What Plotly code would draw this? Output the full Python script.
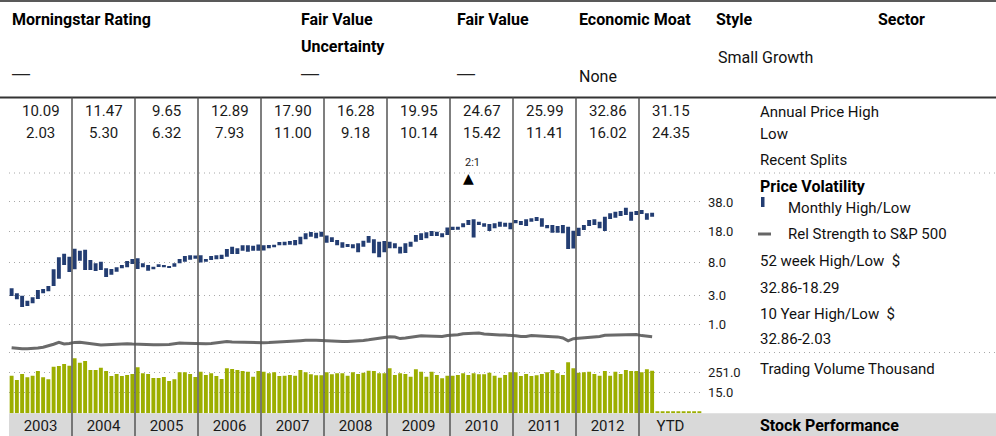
import math
import plotly.graph_objects as go

W, H = 996, 436

# ---------------- data ----------------
years = list(range(2003, 2014))
year_labels = ['2003', '2004', '2005', '2006', '2007', '2008', '2009', '2010', '2011', '2012', 'YTD']
annual_high = [10.09, 11.47, 9.65, 12.89, 17.90, 16.28, 19.95, 24.67, 25.99, 32.86, 31.15]
annual_low = [2.03, 5.30, 6.32, 7.93, 11.00, 9.18, 10.14, 15.42, 11.41, 16.02, 24.35]

monthly_high = [
    3.77, 3.23, 2.99, 2.53, 2.83, 3.58, 3.69, 4.05, 6.57, 9.15, 10.09, 9.30,
    11.47, 10.92, 11.21, 8.50, 7.77, 8.12, 6.76, 6.63, 6.95, 7.41, 8.27, 8.74,
    8.90, 7.77, 7.41, 7.07, 7.56, 7.41, 7.21, 7.77, 8.74, 9.47, 9.65, 9.60,
    9.65, 8.74, 9.47, 9.65, 9.81, 11.42, 12.14, 11.63, 12.59, 12.59, 12.46, 12.89,
    12.59, 12.69, 12.79, 13.73, 13.84, 14.09, 14.46, 15.76, 17.20, 17.79, 17.47, 17.90,
    16.28, 15.51, 14.46, 13.62, 13.03, 12.92, 13.27, 14.20, 16.04, 14.73, 13.84, 14.09,
    13.84, 13.27, 12.14, 13.27, 13.84, 16.46, 17.20, 17.65, 18.25, 17.93, 17.20, 19.95,
    20.40, 20.30, 22.21, 24.15, 24.67, 23.14, 22.21, 21.82, 22.21, 23.14, 22.55, 22.55,
    24.15, 23.55, 24.59, 25.22, 25.99, 25.22, 21.27, 21.27, 20.74, 21.27, 20.37, 18.39,
    19.86, 21.27, 24.15, 24.59, 23.14, 26.27, 28.62, 29.80, 30.32, 32.86, 29.80, 30.32,
    31.15, 28.62, 29.05,
]
monthly_low = [
    2.96, 2.65, 2.03, 2.10, 2.31, 2.68, 3.23, 3.44, 4.05, 5.03, 7.41, 6.10,
    6.57, 8.34, 6.45, 6.45, 6.27, 6.45, 5.30, 5.65, 6.15, 6.76, 6.95, 7.62,
    6.63, 6.95, 6.32, 6.57, 7.01, 6.95, 6.82, 7.07, 7.77, 8.12, 8.57, 8.81,
    7.93, 8.12, 8.50, 8.66, 8.74, 9.30, 10.00, 10.00, 10.92, 10.63, 10.92, 10.92,
    11.00, 11.63, 11.95, 12.59, 12.59, 12.79, 12.59, 12.92, 14.73, 15.76, 15.11, 15.76,
    13.48, 13.73, 12.59, 11.82, 12.04, 11.63, 10.46, 12.14, 13.48, 10.19, 9.18, 10.46,
    11.63, 11.63, 10.14, 10.30, 12.14, 13.84, 14.46, 15.11, 16.04, 16.04, 15.51, 16.46,
    18.70, 18.80, 20.06, 21.27, 15.42, 21.27, 20.37, 18.25, 19.55, 20.37, 20.37, 19.06,
    22.21, 21.27, 20.74, 23.14, 23.55, 20.37, 19.55, 17.47, 17.47, 17.20, 11.41, 11.60,
    16.02, 18.72, 20.74, 21.27, 19.55, 18.29, 24.78, 25.61, 26.73, 27.41, 23.72, 27.41,
    28.12, 24.35, 26.27,
]
rel_strength = [
    89.6, 88.4, 87.6, 87.6, 88.0, 89.0, 90.6, 93.0, 96.6, 100.2, 97.0, 98.2,
    100.2, 100.4, 98.8, 97.4, 96.0, 95.0, 95.6, 96.2, 96.8, 97.2, 97.6, 97.0,
    96.4, 96.0, 95.6, 95.6, 95.6, 95.6, 96.2, 97.6, 99.0, 98.6, 98.4, 97.6,
    97.0, 97.4, 98.2, 99.2, 100.4, 101.8, 101.0, 100.6, 100.8, 100.8, 100.2, 99.8,
    99.6, 99.8, 100.4, 101.0, 101.0, 101.0, 102.4, 103.6, 104.4, 105.0, 104.6, 104.2,
    103.4, 103.2, 102.6, 102.2, 101.8, 102.2, 103.2, 104.2, 105.4, 107.0, 108.6, 110.2,
    111.4, 110.8, 107.8, 109.0, 110.6, 113.2, 113.4, 113.2, 112.8, 112.0, 112.2, 113.8,
    114.2, 115.4, 117.6, 118.4, 119.2, 119.0, 117.2, 116.2, 115.6, 115.0, 114.8, 114.6,
    113.6, 111.8, 112.0, 113.8, 113.2, 111.4, 111.2, 111.6, 111.2, 109.0, 103.4, 107.6,
    108.4, 109.0, 109.6, 110.2, 112.2, 114.4, 114.6, 115.0, 114.8, 114.4, 115.8, 116.0,
    113.8, 112.8, 111.6,
]
volume_k = [
    163, 91, 205, 131, 163, 307, 131, 99, 550, 605, 794, 630,
    1718, 946, 1191, 351, 351, 480, 307, 155, 204, 155, 178, 204,
    507, 224, 204, 118, 118, 135, 78, 99, 257, 257, 204, 135,
    279, 178, 224, 155, 103, 443, 403, 351, 307, 279, 141, 307,
    279, 224, 257, 155, 162, 178, 162, 351, 257, 196, 171, 171,
    257, 196, 224, 224, 162, 257, 204, 243, 320, 307, 224, 224,
    443, 178, 224, 204, 141, 386, 279, 141, 279, 178, 114, 162,
    162, 178, 224, 178, 224, 196, 196, 243, 162, 123, 178, 257,
    257, 155, 204, 155, 171, 204, 257, 351, 224, 178, 999, 443,
    243, 257, 279, 204, 162, 307, 162, 279, 204, 351, 307, 307,
    257, 386, 320, 0.3, 0.3, 0.3, 0.3, 0.3, 0.3, 0.3, 0.3, 0.3,
]
price_ticks = [1.0, 3.0, 8.0, 18.0, 38.0]
volume_ticks = [15.0, 251.0]
split_month = 2010 + 3.5 / 12
split_label = '2:1'

header_titles = ['Morningstar Rating', 'Fair Value<br>Uncertainty', 'Fair Value', 'Economic Moat', 'Style', 'Sector']
header_values = ['—', '—', '—', 'None', 'Small Growth', '']
right_labels = ['Annual Price High', 'Low', 'Recent Splits']
week52 = '32.86-18.29'
year10 = '32.86-2.03'

# ---------------- helpers ----------------
def px_x(p):
    return p / W

def px_y(p):
    return 1 - p / H

month_x = [y + (m + 0.5) / 12 for y in years for m in range(12)]
n_p = len(monthly_high)

NAVY = '#233d72'
OLIVE = '#9cae00'

fig = go.Figure()
fig.add_trace(go.Bar(
    x=month_x[:n_p],
    base=[l + 1 for l in monthly_low],
    y=[h - l for h, l in zip(monthly_high, monthly_low)],
    width=0.062, marker=dict(color=NAVY, line=dict(width=0)),
    xaxis='x', yaxis='y', hoverinfo='skip'))
fig.add_trace(go.Scatter(
    x=month_x[:n_p], y=rel_strength, mode='lines',
    line=dict(color='rgba(80,80,80,0.85)', width=3),
    xaxis='x', yaxis='y3', hoverinfo='skip'))
fig.add_trace(go.Bar(
    x=month_x[:len(volume_k)], base=1, y=volume_k,
    width=0.062, marker=dict(color=OLIVE, line=dict(width=0)),
    xaxis='x', yaxis='y2', hoverinfo='skip'))

PRICE_TOP = (352.5 - 173) / 94.6
VOL_TOP = (413.3 - 352.5) / 17.0
DOT = '1px,4px'
GRID = '#a8a8a8'

fig.update_layout(
    width=W, height=H, margin=dict(l=0, r=0, t=0, b=0),
    template='none', paper_bgcolor='white', plot_bgcolor='rgba(0,0,0,0)',
    showlegend=False, barmode='overlay',
    font=dict(family='Roboto', color='#111', size=15),
    xaxis=dict(domain=[px_x(9), px_x(702)], range=[2003, 2014], anchor='y2',
               tickvals=[y + 0.5 for y in years], ticktext=year_labels,
               showgrid=False, zeroline=False, showline=False, ticks='',
               tickfont=dict(size=15, color='#1a1a1a'), ticklabelstandoff=2,
               automargin=False, fixedrange=True),
    yaxis=dict(domain=[px_y(352.5), px_y(173)], type='log', range=[0, PRICE_TOP],
               side='right', anchor='x',
               tickvals=[t + 1 for t in price_ticks], ticktext=[f'{t:.1f}' for t in price_ticks],
               showgrid=True, gridcolor=GRID, griddash=DOT, gridwidth=1,
               zeroline=False, showline=False, ticks='',
               tickfont=dict(size=13, color='#1a1a1a'), ticklabelstandoff=5, automargin=False),
    yaxis2=dict(domain=[px_y(413.3), px_y(352.5)], type='log', range=[0, VOL_TOP],
                side='right', anchor='x',
                tickvals=[t + 1 for t in volume_ticks], ticktext=[f'{t:.1f}' for t in volume_ticks],
                showgrid=True, gridcolor=GRID, griddash=DOT, gridwidth=1,
                zeroline=False, showline=False, ticks='',
                tickfont=dict(size=13, color='#1a1a1a'), ticklabelstandoff=5, automargin=False),
    yaxis3=dict(overlaying='y', anchor='x', range=[80, 439], visible=False),
)

shapes = []
# gray band behind year labels
shapes.append(dict(type='rect', xref='paper', yref='paper', x0=px_x(9), x1=1, y0=0, y1=px_y(413.3),
                   fillcolor='#d9d9d9', line=dict(width=0), layer='below'))
# top rules
shapes.append(dict(type='line', xref='paper', yref='paper', x0=0, x1=1, y0=px_y(1), y1=px_y(1),
                   line=dict(color='#222', width=1.5)))
shapes.append(dict(type='line', xref='paper', yref='paper', x0=0, x1=1, y0=px_y(97.5), y1=px_y(97.5),
                   line=dict(color='#333', width=2)))
# dotted separators
for yy in (173, 352.5):
    shapes.append(dict(type='line', xref='paper', yref='paper', x0=px_x(9), x1=1, y0=px_y(yy), y1=px_y(yy),
                       line=dict(color=GRID, width=1, dash=DOT), layer='below'))
# year separators
for y in years[1:]:
    shapes.append(dict(type='line', xref='x', yref='paper', x0=y, x1=y, y0=0, y1=px_y(97.5),
                       line=dict(color='#555', width=1.5), layer='above'))
# legend keys
shapes.append(dict(type='rect', xref='paper', yref='paper', x0=px_x(761), x1=px_x(764.5),
                   y0=px_y(207), y1=px_y(197), fillcolor=NAVY, line=dict(width=0)))
shapes.append(dict(type='line', xref='paper', yref='paper', x0=px_x(758), x1=px_x(771),
                   y0=px_y(234), y1=px_y(234), line=dict(color='#666', width=3)))
fig.update_layout(shapes=shapes)

anns = []

def txt(text, x, y, size=15, bold=False, color='#111', xanchor='left', xref='paper', family='Roboto'):
    anns.append(dict(text=f'<b>{text}</b>' if bold else text,
                     x=px_x(x) if xref == 'paper' else x, y=px_y(y),
                     xref=xref, yref='paper', xanchor=xanchor, yanchor='middle',
                     showarrow=False, font=dict(size=size, color=color, family=family)))

# header
header_x = [10, 299, 455, 577, 714, 876]
for t, xx in zip(header_titles, header_x):
    if '<br>' in t:
        a, b = t.split('<br>')
        txt(a, xx, 20, 16, True, '#000')
        txt(b, xx, 47, 16, True, '#000')
    else:
        txt(t, xx, 20, 16, True, '#000')
for v, xx in zip(header_values[:3], header_x[:3]):
    txt(v, xx - 1, 73, 20, color='#222', family='DejaVu Sans')
txt(header_values[3], 577, 76, 16)
txt(header_values[4], 716, 58, 16)

# annual high / low
for i, y in enumerate(years):
    txt(f'{annual_high[i]:.2f}', y + 0.5, 111, 15, color='#1a1a1a', xanchor='center', xref='x')
    txt(f'{annual_low[i]:.2f}', y + 0.5, 133, 15, color='#1a1a1a', xanchor='center', xref='x')

# split marker
txt(split_label, split_month + 0.07, 162, 11, color='#222', xanchor='center', xref='x')
txt('▲', split_month, 178, 14, color='#000', xanchor='center', xref='x', family='DejaVu Sans')

# right side labels
txt(right_labels[0], 758, 112)
txt(right_labels[1], 758, 134)
txt(right_labels[2], 758, 160)
txt('Price Volatility', 758, 187, 16, True, '#000')
txt('Monthly High/Low', 786, 208)
txt('Rel Strength to S&amp;P 500', 786, 234)
txt('52 week High/Low  $', 758, 261)
txt(week52, 758, 288)
txt('10 Year High/Low  $', 758, 314)
txt(year10, 758, 339)
txt('Trading Volume Thousand', 758, 369)
txt('Stock Performance', 758, 425, 16, True, '#000')

fig.update_layout(annotations=anns)

fig.write_html('out.html', config={'displayModeBar': False, 'staticPlot': True},
               post_script="document.body.style.margin='0';document.body.style.overflow='hidden';")
